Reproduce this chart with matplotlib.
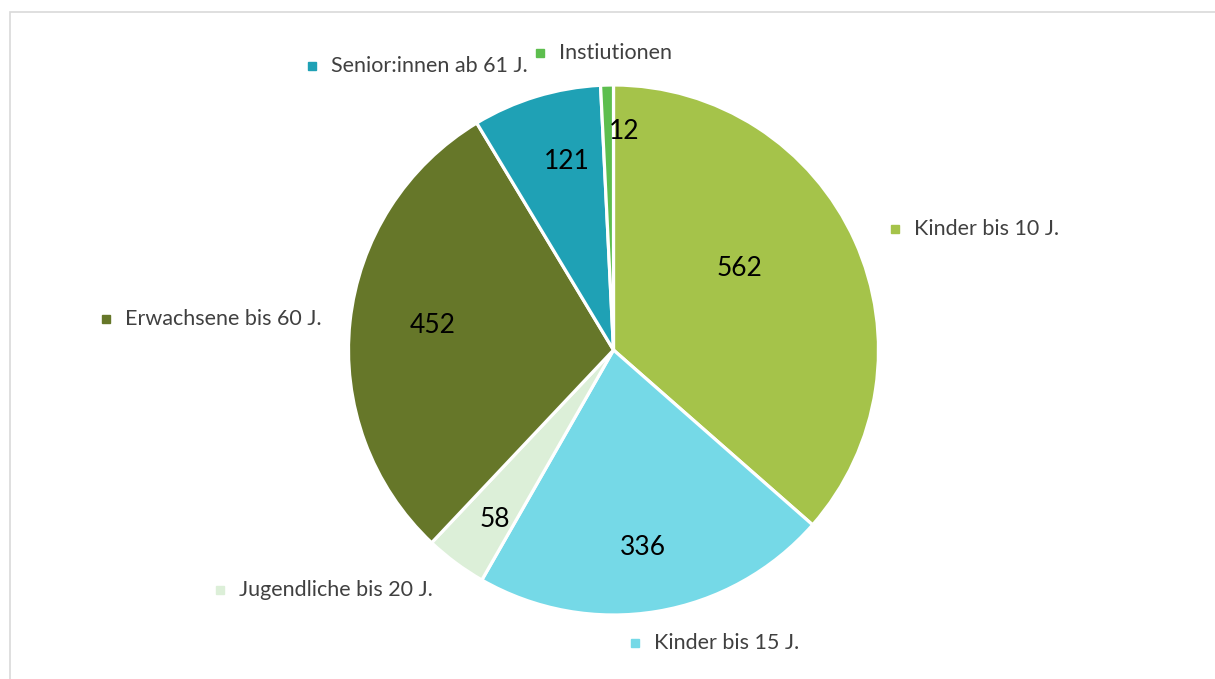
import matplotlib.pyplot as plt
from matplotlib.patches import Rectangle

# data (clockwise from 12 o'clock)
categories = ["Kinder bis 10 J.", "Kinder bis 15 J.", "Jugendliche bis 20 J.",
              "Erwachsene bis 60 J.", "Senior:innen ab 61 J.", "Instiutionen"]
values = [562, 336, 58, 452, 121, 12]
colors = ["#A5C34A", "#75D9E7", "#DCEFD8", "#667729", "#1FA1B5", "#5DBE4E"]

# label layout, in pie units (radius = 1)
value_label_xy = [(0.477, 0.309), (0.111, -0.747), (-0.447, -0.638),
                  (-0.683, 0.091), (-0.175, 0.713), (0.042, 0.826)]
cat_marker_xy = [(1.062, 0.458), (0.081, -1.104), (-1.485, -0.906),
                 (-1.915, 0.118), (-1.138, 1.070), (-0.277, 1.119)]

plt.rcParams['font.family'] = ['Lato', 'DejaVu Sans']

W, H = 1215, 679
fig = plt.figure(figsize=(W / 100, H / 100), dpi=100)

# pie geometry in pixels
cx, cy, R = 613.5, 350, 265
ax = fig.add_axes([(cx - R) / W, (H - cy - R) / H, 2 * R / W, 2 * R / H])

ax.pie(values, colors=colors, startangle=90, counterclock=False,
       wedgeprops=dict(edgecolor="white", linewidth=2.3))
ax.set_xlim(-1, 1)
ax.set_ylim(-1, 1)
ax.set_aspect("equal")
ax.axis("off")

for v, (x, y) in zip(values, value_label_xy):
    ax.text(x, y, str(v), ha="center", va="center", fontsize=19, color="black")

for cat, col, (x, y) in zip(categories, colors, cat_marker_xy):
    ax.plot(x, y, marker="s", markersize=5.5, color=col, clip_on=False)
    ax.text(x + 0.072, y, cat, ha="left", va="center", fontsize=15.5,
            color="#404040", clip_on=False)

# outer chart border (only top/left visible)
fig.patches.append(Rectangle((9.5 / W, -0.1), 2, 1 - 11.5 / H + 0.1,
                             transform=fig.transFigure, fill=False,
                             edgecolor="#D9D9D9", linewidth=1.2))

fig.savefig("out.png", dpi=100, facecolor="white")
